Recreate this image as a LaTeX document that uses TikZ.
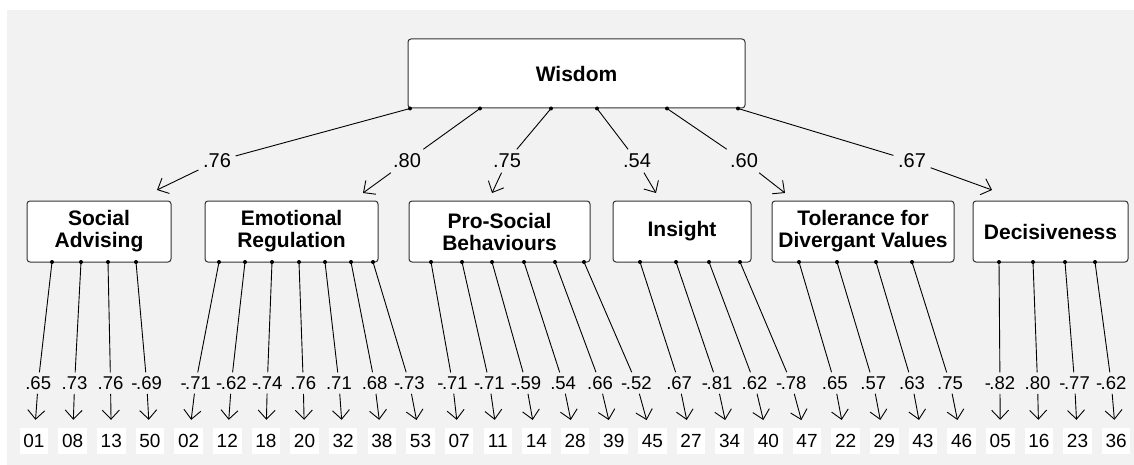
\documentclass[tikz,border=0pt]{standalone}
\usepackage{fontspec}
\setmainfont{Liberation Sans}
\usepackage{xcolor}
\usetikzlibrary{arrows.meta, positioning, calc}
\definecolor{backgray}{HTML}{F2F2F2}
\definecolor{boxline}{HTML}{333333}
\newcommand{\mn}{-\kern-1.5pt}

\begin{document}
\begin{tikzpicture}[
		x=1pt, y=-1pt,
		node distance=20pt,
		every node/.style={font=\fontsize{20}{22}\selectfont},
		factor/.style={draw=boxline, fill=white, rounded corners=3pt, line width=1pt, minimum height=61pt, inner sep=0pt, align=center, font=\fontsize{21}{22}\selectfont\bfseries},
		item/.style={fill=white, minimum width=28.5pt, minimum height=26pt, inner sep=0pt, font=\fontsize{19}{20}\selectfont},
		load/.style={inner sep=4.5pt},
		arrow/.style={line width=0.9pt, -{Straight Barb[length=9pt, width=17pt]}}
		]
		
		% Fondo
		\fill[backgray] (7,10) rectangle (1134,465);
		\useasboundingbox (0,0) rectangle (1134,465);
		
		% Nodos
		\node[factor, minimum width=337pt, minimum height=69pt] (wisdom) at (576.5,73.5) {Wisdom};
		\node[factor, minimum width=144pt] (sa) at (99,231.5) {Social\\Advising};
		\node[factor, minimum width=173pt, right=33pt of sa] (er) {Emotional\\Regulation};
		\node[factor, minimum width=181pt, right=30pt of er] (ps) {Pro-Social\\Behaviours};
		\node[factor, minimum width=138pt, right=22pt of ps] (ins) {Insight};
		\node[factor, minimum width=182pt, right=20pt of ins] (tol) {Tolerance for\\Divergant Values};
		\node[factor, minimum width=155pt, right=18pt of tol] (dec) {Decisiveness};
		
		% Cargas de segundo orden
		\node[load] (lsa) at (217,161) {.76};
		\node[load] (ler) at (407,161) {.80};
		\node[load] (lps) at (507,161) {.75};
		\node[load] (lins) at (637,161) {.54};
		\node[load] (ltol) at (744,161) {.60};
		\node[load] (ldec) at (912,161) {.67};
		
		\coordinate (w1) at (410,0 |- wisdom.south);
		\coordinate (w2) at (480,0 |- wisdom.south);
		\coordinate (w3) at (551,0 |- wisdom.south);
		\coordinate (w4) at (597,0 |- wisdom.south);
		\coordinate (w5) at (667,0 |- wisdom.south);
		\coordinate (w6) at (738,0 |- wisdom.south);
		\coordinate (sa-in) at (157,190);
		\coordinate (er-in) at (363,193);
		\coordinate (ps-in) at (492,193);
		\coordinate (ins-in) at (656,193);
		\coordinate (tol-in) at (785,193);
		\coordinate (dec-in) at (992,190);
		
		% Flechas
		\draw[arrow] (w1) -- (lsa) -- (sa-in);
		\draw[arrow] (w2) -- (ler) -- (er-in);
		\draw[arrow] (w3) -- (lps) -- (ps-in);
		\draw[arrow] (w4) -- (lins) -- (ins-in);
		\draw[arrow] (w5) -- (ltol) -- (tol-in);
		\draw[arrow] (w6) -- (ldec) -- (dec-in);
		\foreach \k in {1,...,6} \fill (w\k) circle (2pt);
		
		% Items
		\foreach \n/\dx/\v [count=\i from 0] in {01/52/.65, 08/81/.73, 13/108/.76, 50/136/\mn.69,
			02/219/\mn.71, 12/245/\mn.62, 18/272/\mn.74, 20/299/.76, 32/325/.71, 38/351/.68, 53/373/\mn.73,
			07/431/\mn.71, 11/462/\mn.71, 14/492/\mn.59, 28/524/.54, 39/555/.66, 45/584/\mn.52,
			27/640/.67, 34/676/\mn.81, 40/709/.62, 47/740/\mn.78,
			22/799/.65, 29/837/.57, 43/876/.63, 46/912/.75,
			05/999/\mn.82, 16/1033/.80, 23/1065/\mn.77, 36/1095/\mn.62} {
			\pgfmathsetmacro\bx{34+38.65*\i}
			\coordinate (d\n) at (\dx,262);
			\node[item] (i\n) at (\bx,441) {\n};
			\node[load, inner sep=4pt, font=\fontsize{18.5}{20}\selectfont] (l\n) at ($(d\n)!0.766!(\bx,420)$) {\v};
			\draw[arrow, shorten >=8pt] (d\n) -- (l\n) -- (i\n);
			\fill (d\n) circle (2pt);
		}
		
	\end{tikzpicture}
\end{document}
